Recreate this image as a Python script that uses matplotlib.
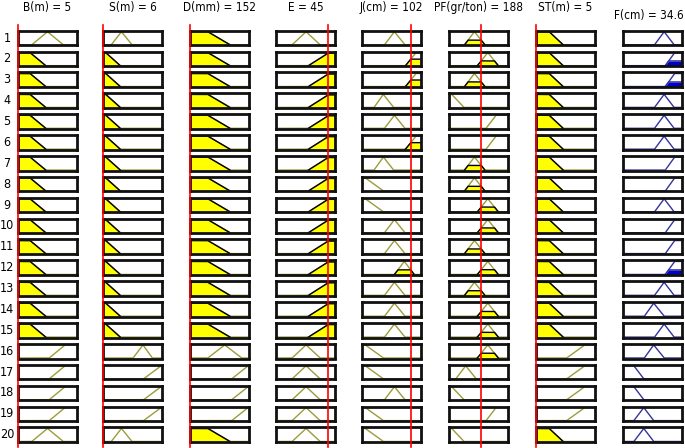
import numpy as np
import matplotlib.pyplot as plt
from matplotlib.lines import Line2D
from matplotlib import font_manager

W, H = 685, 448

titles = ['B(m) = 5', 'S(m) = 6', 'D(mm) = 152', 'E = 45', 'J(cm) = 102',
          'PF(gr/ton) = 188', 'ST(m) = 5', 'F(cm) = 34.6']

# input values, scaled to 0..1 of each variable range (red lines)
inputs = [0.0, 0.0, 0.0, 0.885, 0.83, 0.546, 0.0]

# membership functions as trapezoids (a, b, c, d) on a 0..1 range
mf_B = {'low': (0, 0, 0.2, 0.47), 'mid': (0.23, 0.5, 0.5, 0.77), 'high': (0.53, 0.8, 1, 1)}
mf_S = {'low': (0, 0, 0.04, 0.29), 'lm': (0.135, 0.31, 0.31, 0.49),
        'mh': (0.51, 0.68, 0.68, 0.84), 'high': (0.69, 0.99, 1, 1)}
mf_D = {'low': (0, 0, 0.3, 0.68), 'mid': (0.3, 0.59, 0.59, 0.88), 'high': (0.71, 0.99, 1, 1)}
mf_E = {'mid': (0.27, 0.51, 0.51, 0.75), 'high': (0.55, 0.9, 1, 1)}
mf_J = {'low': (0, 0, 0.05, 0.36), 'lm': (0.2, 0.36, 0.36, 0.535), 'mid': (0.38, 0.55, 0.55, 0.73),
        'mh': (0.55, 0.72, 0.72, 0.89), 'high': (0.74, 0.92, 1, 1)}
mf_PF = {'low': (0, 0, 0.04, 0.25), 'lm': (0.11, 0.28, 0.28, 0.46), 'mid': (0.26, 0.43, 0.43, 0.61),
         'mh': (0.48, 0.66, 0.66, 0.84), 'high': (0.63, 0.8, 1, 1)}
mf_ST = {'low': (0, 0, 0.22, 0.46), 'high': (0.52, 0.83, 1, 1)}
mf_F = {'low': (0, 0, 0.18, 0.35), 'lm': (0.18, 0.35, 0.35, 0.52), 'mid': (0.36, 0.52, 0.52, 0.7),
        'mh': (0.535, 0.7, 0.7, 0.87), 'high': (0.72, 0.88, 1, 1)}

# rule base, one list per variable (20 rules)
rules_B = ['mid'] + ['low'] * 14 + ['high'] * 4 + ['mid']
rules_S = ['lm'] + ['low'] * 14 + ['mh'] + ['high'] * 3 + ['lm']
rules_D = ['low'] * 15 + ['mid'] + ['high'] * 3 + ['low']
rules_E = ['mid'] + ['high'] * 14 + ['mid'] * 5
rules_J = ['mid', 'high', 'high', 'lm', 'mid', 'high', 'lm', 'low', 'low', 'mid',
           'mid', 'mh', 'mid', 'mid', 'mid', 'low', 'low', 'mid', 'low', 'low']
rules_PF = ['mid', 'mh', 'mid', 'low', 'high', 'high', 'mid', 'mid', 'mh', 'mh',
            'mid', 'mh', 'mid', 'mh', 'mh', 'mh', 'lm', 'low', 'high', 'low']
rules_ST = ['low'] * 15 + ['high'] * 4 + ['low']
rules_F = ['mh', 'high', 'high', 'mh', 'mh', 'mh', 'high', 'high', 'mh', 'high',
           'high', 'high', 'mh', 'mid', 'mh', 'mid', 'low', 'low', 'lm', 'lm']

mfs = [mf_B, mf_S, mf_D, mf_E, mf_J, mf_PF, mf_ST, mf_F]
rules = [rules_B, rules_S, rules_D, rules_E, rules_J, rules_PF, rules_ST, rules_F]


def trap(x, p):
    a, b, c, d = p
    y = np.ones_like(x, dtype=float)
    if b > a:
        y = np.minimum(y, (x - a) / (b - a))
    else:
        y = np.where(x < a, 0.0, y)
    if d > c:
        y = np.minimum(y, (d - x) / (d - c))
    else:
        y = np.where(x > d, 0.0, y)
    return np.clip(y, 0, 1)


def narrow_font():
    # look for a narrow sans face, else fall back to Liberation Sans
    found = None
    for f in font_manager.fontManager.ttflist:
        name = f.name.lower()
        if f.style != 'normal' or f.weight not in (400, 'normal', 'regular'):
            continue
        if 'liberation sans narrow' in name:
            return font_manager.FontProperties(fname=f.fname), 9
        if found is None and ('narrow' in name or 'condensed' in name or
                              (f.stretch == 'condensed' and 'sans' in name and 'mono' not in name)):
            found = f
    if found is not None:
        return font_manager.FontProperties(fname=found.fname), 8.5
    return font_manager.FontProperties(family='Liberation Sans'), 8


fp, fsize = narrow_font()

# layout in pixels (outer edge of each box)
col_x = [17, 102, 189, 275, 361, 448, 535, 622]
box_w = 61
box_h = 17.4
top0 = 29.3
pitch = 20.88
inset = 1.4

olive = '#9c9c3a'
navy = '#34349c'
xs = np.linspace(0, 1, 601)

fig = plt.figure(figsize=(W / 100, H / 100), dpi=100)

n_rows = len(rules_B)
for i in range(n_rows):
    top = top0 + i * pitch
    # firing strength of the rule (min of antecedents)
    levels = [float(trap(np.array([inputs[j]]), mfs[j][rules[j][i]])[0]) for j in range(7)]
    strength = min(levels)
    for j in range(8):
        ax = fig.add_axes([(col_x[j] + inset) / W, 1 - (top + box_h - inset) / H,
                           (box_w - 2 * inset) / W, (box_h - 2 * inset) / H])
        ax.set_xlim(0, 1)
        ax.set_ylim(-0.04, 1.08)
        ax.set_xticks([])
        ax.set_yticks([])
        for s in ax.spines.values():
            s.set_linewidth(2.0)
            s.set_color('#111111')
        p = mfs[j][rules[j][i]]
        y = trap(xs, p)
        is_out = j == 7
        ax.plot(xs, y, color=navy if is_out else olive, lw=1.0)
        lev = strength if is_out else levels[j]
        if lev > 0:
            yc = np.minimum(y, lev)
            ax.fill_between(xs, 0, yc, color='#0000c8' if is_out else '#ffff00', lw=0)
            m = yc > 0
            m = m | np.r_[m[1:], False] | np.r_[False, m[:-1]]
            ax.plot(xs[m], yc[m], color=navy if is_out else 'black', lw=1.0)

# red lines marking the input values
for j in range(7):
    xr = (col_x[j] + inset + inputs[j] * (box_w - 2 * inset)) / W
    fig.add_artist(Line2D([xr, xr], [1 - 25 / H, 1 - 447 / H], color='red', lw=1.2, zorder=10))

for j, t in enumerate(titles):
    ty = 15 if j == 7 else 7.5
    tx = 649 if j == 7 else col_x[j] + box_w / 2
    fig.text(tx / W, 1 - ty / H, t, ha='center', va='center',
             fontproperties=fp, fontsize=fsize)

for i in range(n_rows):
    fig.text(7 / W, 1 - (top0 + i * pitch + box_h / 2) / H, str(i + 1),
             ha='center', va='center', fontproperties=fp, fontsize=fsize + 0.5)

fig.savefig('out.png', dpi=100)
